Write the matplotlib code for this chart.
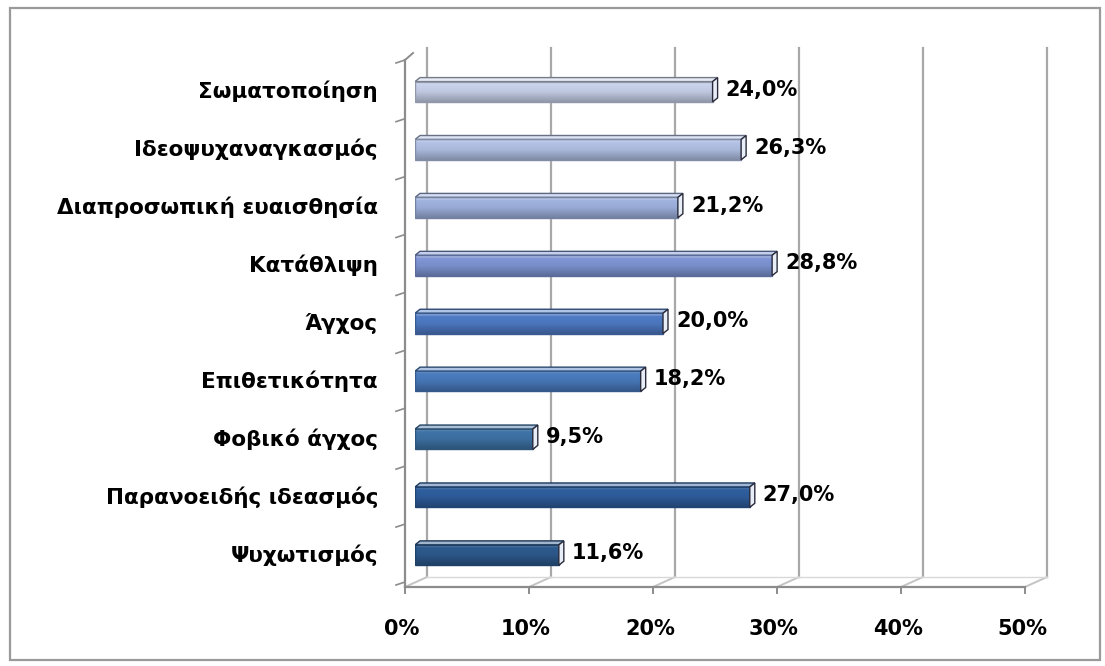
import numpy as np
import matplotlib.pyplot as plt
from matplotlib.patches import Rectangle, Polygon
import matplotlib.colors as mcolors

categories = ["Σωματοποίηση", "Ιδεοψυχαναγκασμός", "Διαπροσωπική ευαισθησία",
              "Κατάθλιψη", "Άγχος", "Επιθετικότητα", "Φοβικό άγχος",
              "Παρανοειδής ιδεασμός", "Ψυχωτισμός"]
values = [24.0, 26.3, 21.2, 28.8, 20.0, 18.2, 9.5, 27.0, 11.6]
bar_colors = ["#c9d3ec", "#b3c2e6", "#a0b3e0", "#7f96d6", "#4f7bc6",
              "#4a7cbf", "#3f74a8", "#2f5f9f", "#2d5a8e"]
xticks = [0, 10, 20, 30, 40, 50]
xtick_labels = ["0%", "10%", "20%", "30%", "40%", "50%"]

W, H = 1105, 666
fig = plt.figure(figsize=(W / 100, H / 100), dpi=100)
fig.patch.set_facecolor("white")

# outer frame
fig.add_artist(Rectangle((10 / W, 6 / H), 1090 / W, 652 / H, transform=fig.transFigure,
                         fill=False, edgecolor="#9a9a9a", lw=1.6))

# axes = plane where the bars stand
left_px, right_px, top_px, bot_px = 415, 1035, 55, 582
ax = fig.add_axes([left_px / W, 1 - bot_px / H, (right_px - left_px) / W, (bot_px - top_px) / H])
ytop, ybot = -0.6, 8.5
ax.set_xlim(0, 50)
ax.set_ylim(ybot, ytop)
ax.axis("off")

pxx = (right_px - left_px) / 50.0
pxy = (bot_px - top_px) / (ybot - ytop)

def dx(p):
    return p / pxx

def dy(p):
    return p / pxy

# back wall gridlines
bx, by = dx(12), -dy(5)
ytop_wall = ytop - dy(7)
for t in xticks:
    ax.plot([t + bx, t + bx], [ybot + by, ytop_wall], color="#a8a8a8", lw=1.6,
            clip_on=False, zorder=1)
    ax.plot([t - dx(10), t + bx], [ybot + dy(5), ybot + by], color="#c4c4c4", lw=1.4,
            clip_on=False, zorder=1)
# floor back edge
ax.plot([0 + bx, 50 + bx], [ybot + by, ybot + by], color="#d8d8d8", lw=1.0, clip_on=False, zorder=1)

# front axis lines
fx, fy = -dx(10), dy(5)
ax.plot([0 + fx, 50 + fx], [ybot + fy, ybot + fy], color="#8c8c8c", lw=1.6, clip_on=False, zorder=5)
for t, lab in zip(xticks, xtick_labels):
    ax.plot([t + fx, t + fx], [ybot + fy, ybot + fy + dy(6)], color="#8c8c8c", lw=1.4,
            clip_on=False, zorder=5)
    ax.text(t + fx - dx(3), ybot + fy + dy(42), lab, ha="center",
            va="center", fontsize=15, fontweight="heavy", color="#000000", clip_on=False)
ax.plot([0 + fx, 0 + fx], [ybot + fy, ytop + dy(5)], color="#8c8c8c", lw=1.6, clip_on=False, zorder=5)
ax.plot([0 + fx, 0 + fx + dx(8)], [ytop + dy(5), ytop - dy(2)], color="#8c8c8c", lw=1.4,
        clip_on=False, zorder=5)
for k in range(len(categories) + 1):
    yk = k - 0.5 if k > 0 else ytop + dy(5)
    ax.plot([0 + fx - dx(9), 0 + fx], [yk + dy(3), yk], color="#8c8c8c", lw=1.2,
            clip_on=False, zorder=5)

# bars with a simple 3-d look
bh = 0.42
top_depth = dy(4)
for i, (cat, v, c) in enumerate(zip(categories, values, bar_colors)):
    rgb = np.array(mcolors.to_rgb(c))
    light = np.clip(rgb + (1 - rgb) * 0.55, 0, 1)
    dark = rgb * 0.72
    y0 = i - bh / 2
    # vertical gradient on front face
    grad = np.linspace(0, 1, 32)
    col = np.zeros((32, 1, 3))
    for j in range(3):
        col[:, 0, j] = np.interp(grad, [0, 0.15, 0.5, 1.0],
                                 [light[j], rgb[j], rgb[j] * 0.95, dark[j]])
    ax.imshow(col, extent=[0, v, y0 + bh, y0 + top_depth], aspect="auto",
              interpolation="bilinear", zorder=3)
    # top face
    ax.add_patch(Polygon([[0, y0 + top_depth], [v, y0 + top_depth],
                          [v + dx(5), y0], [0 + dx(5), y0]],
                         closed=True, facecolor=light, edgecolor=dark * 0.8, lw=1.0, zorder=3))
    # outline of front face
    ax.add_patch(Rectangle((0, y0 + top_depth), v, bh - top_depth, fill=False,
                           edgecolor=dark, lw=1.0, zorder=4))
    # end cap
    ax.add_patch(Polygon([[v, y0 + top_depth], [v + dx(5), y0], [v + dx(5), y0 + bh - top_depth],
                          [v, y0 + bh]], closed=True, facecolor="#e8eef8",
                         edgecolor="#2a2a3a", lw=1.0, zorder=4))
    ax.text(v + dx(13), i, f"{v:.1f}%".replace(".", ","), ha="left", va="center",
            fontsize=15, fontweight="heavy", color="#000000", zorder=6)
    ax.text(0 + fx - dx(27), i + dy(2), cat, ha="right", va="center",
            fontsize=15.5, fontweight="heavy", color="#000000", clip_on=False)

fig.savefig("out.png", dpi=100, facecolor="white")
